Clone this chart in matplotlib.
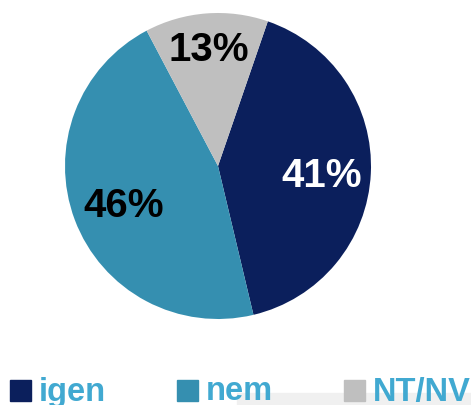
import numpy as np
import matplotlib.pyplot as plt
from matplotlib.patches import Rectangle

plt.rcParams['font.family'] = ['Liberation Sans', 'DejaVu Sans']

labels = ['igen', 'nem', 'NT/NV']
shares = [41, 46, 13]
colors = ['#0b1f5c', '#358fb0', '#bfbfbf']
pct_colors = ['white', 'black', 'black']
pct_dist = [0.68, 0.66, 0.79]

W, H = 471, 405
fig = plt.figure(figsize=(W / 100, H / 100), dpi=100)

# pie axes: centre (218,166) px, radius 153 px
cx, cy, r = 218, 166, 153
ax = fig.add_axes([(cx - r) / W, (H - cy - r) / H, 2 * r / W, 2 * r / H])
wedges, _ = ax.pie(shares, colors=colors, startangle=71, counterclock=False,
                   radius=1, wedgeprops=dict(linewidth=0))
ax.set_xlim(-1, 1)
ax.set_ylim(-1, 1)
ax.set_aspect('equal')
ax.axis('off')

for w, val, tc, d in zip(wedges, shares, pct_colors, pct_dist):
    mid = np.deg2rad((w.theta1 + w.theta2) / 2)
    ax.text(d * np.cos(mid), d * np.sin(mid) - 0.03, f'{val}%', color=tc,
            fontsize=29, fontweight='bold', ha='center', va='center')

# faint band at the bottom
fig.patches.append(Rectangle((237 / W, 0), 1, 12 / H, transform=fig.transFigure,
                             color='#f0f0f0', zorder=0))

# legend row
for i, (lab, col) in enumerate(zip(labels, colors)):
    x0 = 10 + i * 167
    fig.patches.append(Rectangle((x0 / W, (H - 401) / H), 21 / W, 21 / H,
                                 transform=fig.transFigure, color=col, zorder=1))
    fig.text((x0 + 29) / W, (H - 400.5) / H, lab, color='#41a9d1', fontsize=23.5,
             fontweight='bold', ha='left', va='baseline')

fig.savefig('out.png', dpi=100)
